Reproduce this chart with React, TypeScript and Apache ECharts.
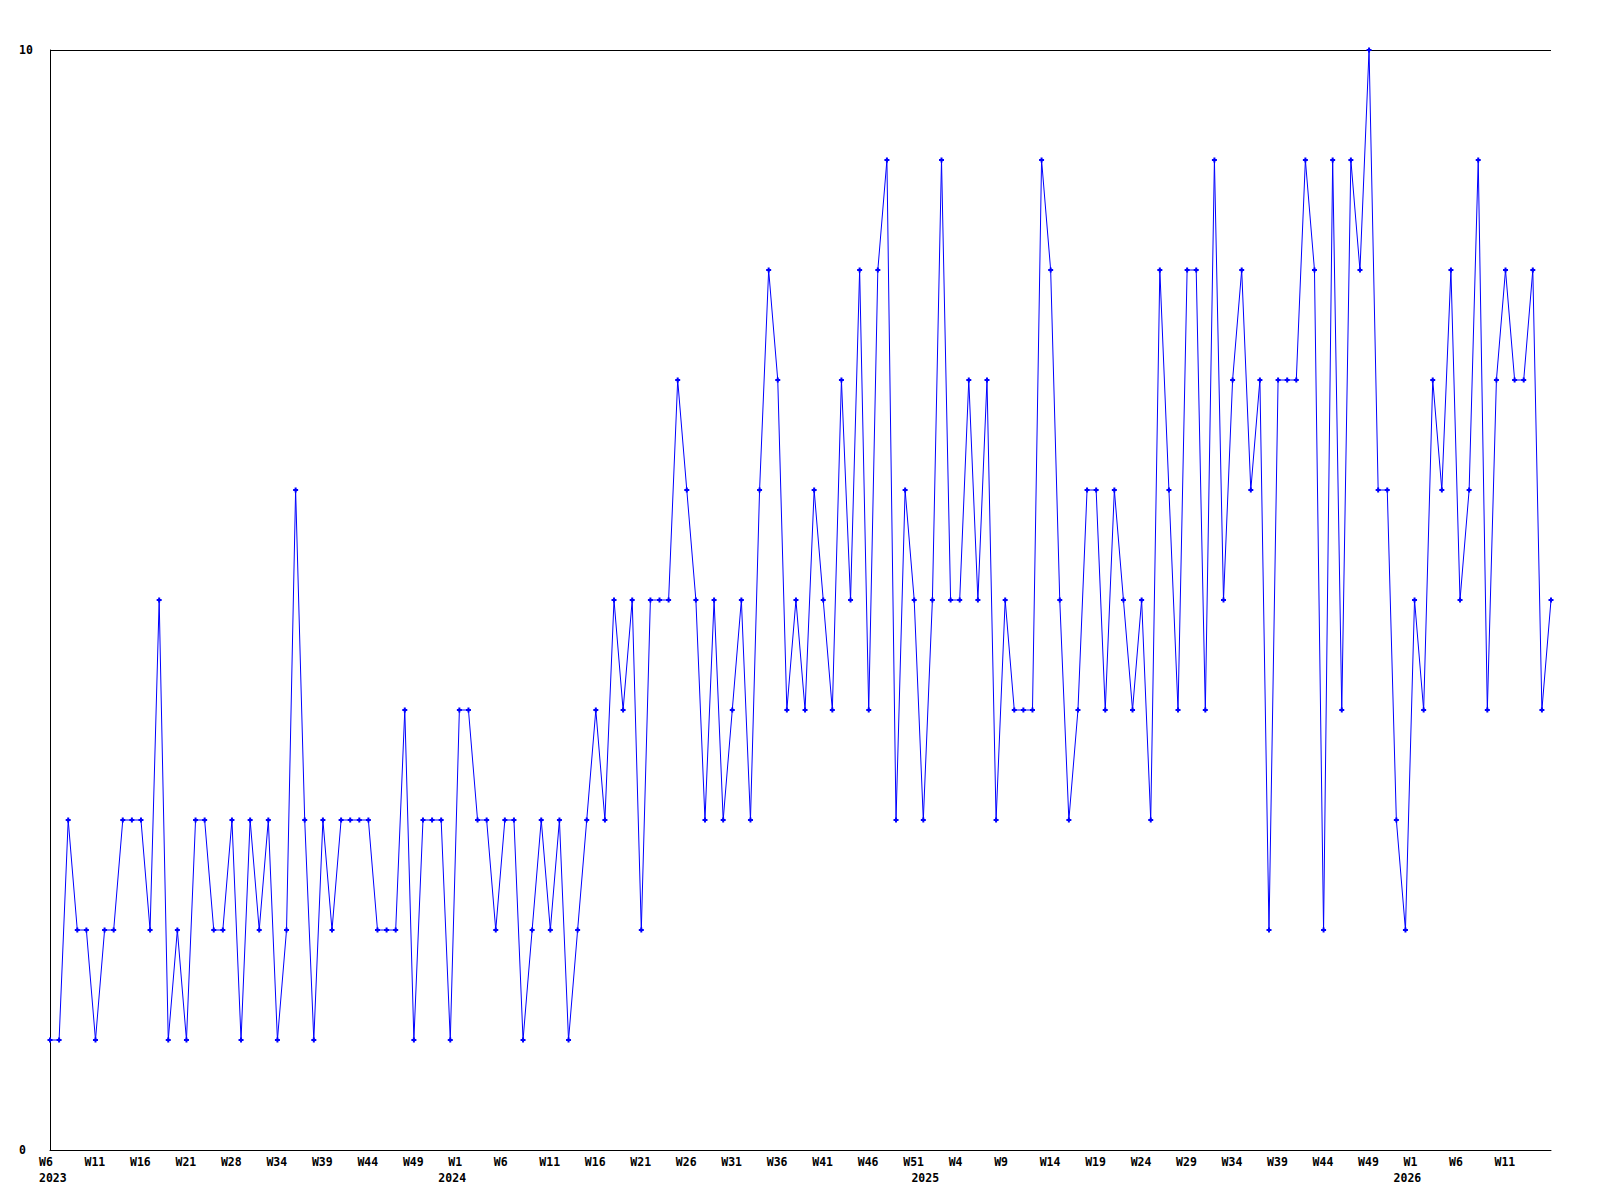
import React, { useEffect, useRef } from "react";
import * as echarts from "echarts";

// Weekly values, one per data point (2023 W6 … 2026)
const values: number[] = [
  1, 1, 3, 2, 2, 1, 2, 2, 3, 3, 3, 2, 5, 1, 2, 1, 3, 3, 2, 2,
  3, 1, 3, 2, 3, 1, 2, 6, 3, 1, 3, 2, 3, 3, 3, 3, 2, 2, 2, 4,
  1, 3, 3, 3, 1, 4, 4, 3, 3, 2, 3, 3, 1, 2, 3, 2, 3, 1, 2, 3,
  4, 3, 5, 4, 5, 2, 5, 5, 5, 7, 6, 5, 3, 5, 3, 4, 5, 3, 6, 8,
  7, 4, 5, 4, 6, 5, 4, 7, 5, 8, 4, 8, 9, 3, 6, 5, 3, 5, 9, 5,
  5, 7, 5, 7, 3, 5, 4, 4, 4, 9, 8, 5, 3, 4, 6, 6, 4, 6, 5, 4,
  5, 3, 8, 6, 4, 8, 8, 4, 9, 5, 7, 8, 6, 7, 2, 7, 7, 7, 9, 8,
  2, 9, 4, 9, 8, 10, 6, 6, 3, 2, 5, 4, 7, 6, 8, 5, 6, 9, 4, 7,
  8, 7, 7, 8, 4, 5,
];

// Tick labels, shown on every 5th point
const weekLabels: string[] = [
  "W6", "W11", "W16", "W21", "W28", "W34", "W39", "W44", "W49", "W1",
  "W6", "W11", "W16", "W21", "W26", "W31", "W36", "W41", "W46", "W51",
  "W4", "W9", "W14", "W19", "W24", "W29", "W34", "W39", "W44", "W49",
  "W1", "W6", "W11",
];
const labelEvery = 5;

// Year labels and the point index where each year starts
const yearLabels: string[] = ["2023", "2024", "2025", "2026"];
const yearStartIndex: number[] = [0, 45, 97, 150];

const categories: string[] = values.map((_, i) => String(i));

const FONT = {
  fontFamily: "'DejaVu Sans Mono', 'Liberation Mono', monospace",
  fontWeight: "bold" as const,
  fontSize: 11.5,
  color: "#000",
};

const PLUS = "path://M0,1.5H5V3.5H0Z M1.5,0H3.5V5H1.5Z";

export default function App() {
  const ref = useRef<HTMLDivElement>(null);

  useEffect(() => {
    if (!ref.current) return;
    const chart = echarts.init(ref.current, undefined, { renderer: "svg" });
    chart.setOption({
      animation: false,
      backgroundColor: "#ffffff",
      grid: { left: 50, right: 49, top: 50, bottom: 50, containLabel: false },
      xAxis: [
        {
          type: "category",
          position: "bottom",
          data: categories,
          boundaryGap: false,
          axisLine: { show: true, lineStyle: { color: "#000", width: 1 } },
          axisTick: { show: false },
          splitLine: { show: false },
          axisLabel: {
            ...FONT,
            margin: 6,
            interval: (i: number) => i % labelEvery === 0 && i / labelEvery < weekLabels.length,
            formatter: (_v: string, i: number) => {
              const t = weekLabels[Math.floor(i / labelEvery)];
              return t ? `{w|${t}}` : "";
            },
            rich: { w: { ...FONT, width: 22, align: "left" } },
          },
        },
        {
          type: "category",
          position: "bottom",
          data: categories,
          boundaryGap: false,
          axisLine: { show: false },
          axisTick: { show: false },
          splitLine: { show: false },
          axisLabel: {
            ...FONT,
            margin: 22,
            interval: (i: number) => yearStartIndex.indexOf(i) >= 0,
            formatter: (_v: string, i: number) => {
              const k = yearStartIndex.indexOf(i);
              if (k < 0) return "";
              return k === 0 ? `{a|${yearLabels[k]}}` : `{b|${yearLabels[k]}}`;
            },
            rich: {
              a: { ...FONT, width: 22, align: "left" },
              b: { ...FONT, width: 42, align: "left" },
            },
          },
        },
      ],
      yAxis: {
        type: "value",
        min: 0,
        max: 10,
        interval: 10,
        axisLine: { show: true, lineStyle: { color: "#000", width: 1 } },
        axisTick: { show: false },
        splitLine: { show: true, lineStyle: { color: "#000", width: 1 } },
        axisLabel: { ...FONT, align: "left", margin: 31 },
      },
      series: [
        {
          type: "line",
          xAxisIndex: 0,
          data: values,
          showSymbol: true,
          showAllSymbol: true,
          symbol: PLUS,
          symbolSize: 5,
          lineStyle: { color: "#0000ff", width: 1 },
          itemStyle: { color: "#0000ff" },
          clip: false,
        },
      ],
    });
    return () => chart.dispose();
  }, []);

  return (
    <div
      ref={ref}
      style={{ position: "fixed", left: 0, top: 0, width: 1600, height: 1200, background: "#fff" }}
    />
  );
}
